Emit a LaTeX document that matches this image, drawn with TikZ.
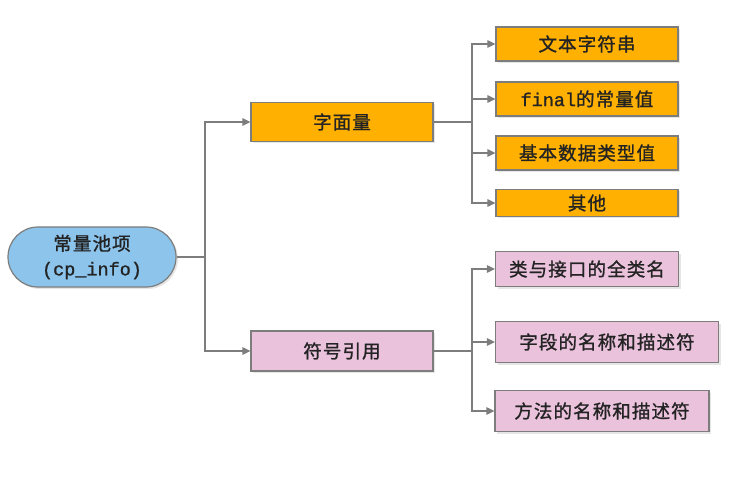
\documentclass[tikz,border=0pt]{standalone}
\usepackage{fontspec}
\setmainfont{Noto Sans CJK SC}[FakeBold=1.2,LetterSpace=6]
\setmonofont{Liberation Mono}[FakeBold=1.2]
\usepackage{tikz}
\usetikzlibrary{arrows.meta}
\usetikzlibrary{shadows}
\definecolor{poolblue}{RGB}{140,196,236}
\definecolor{litorange}{RGB}{255,176,0}
\definecolor{refpink}{RGB}{234,194,220}
\definecolor{edgegray}{RGB}{125,125,125}
\definecolor{inkgray}{RGB}{35,35,35}
\tikzset{
  itembox/.style={draw=edgegray,line width=1.2pt,inner sep=0pt,
    text=inkgray,font=\fontsize{18.5}{21}\selectfont,
    drop shadow={opacity=0.2,shadow xshift=2pt,shadow yshift=-2pt}},
  litbox/.style={itembox,fill=litorange},
  refbox/.style={itembox,fill=refpink},
  link/.style={draw=edgegray,line width=1.2pt},
  linkarr/.style={link,-{Triangle[length=8pt,width=7.5pt]}}
}

\begin{document}
\begin{tikzpicture}[x=1pt,y=-1pt]
    \useasboundingbox (0,0) rectangle (753,492);
    % root entry
    \node[itembox,fill=poolblue,rounded corners=30pt,minimum width=168pt,
          minimum height=60pt,align=center,font=\fontsize{18.5}{25}\selectfont]
          (pool) at (92,257) {常量池项\\\texttt{(cp\_info)}};
    % two kinds
    \node[litbox,minimum width=182pt,minimum height=39pt] (lit) at (342,122) {字面量};
    \node[refbox,minimum width=182pt,minimum height=40pt] (sym) at (342,351) {符号引用};
    % literals
    \node[litbox,minimum width=182pt,minimum height=34pt] (str) at (587,44) {文本字符串};
    \node[litbox,minimum width=182pt,minimum height=34pt] (fin) at (587,99) {\texttt{final}的常量值};
    \node[litbox,minimum width=182pt,minimum height=34pt] (prim) at (587,153) {基本数据类型值};
    \node[litbox,minimum width=182pt,minimum height=27pt] (other) at (587,203) {其他};
    % symbolic references
    \node[refbox,minimum width=183pt,minimum height=35pt] (cls) at (587,269) {类与接口的全类名};
    \node[refbox,minimum width=223pt,minimum height=41pt] (fld) at (607,342) {字段的名称和描述符};
    \node[refbox,minimum width=214pt,minimum height=41pt] (mth) at (602,411) {方法的名称和描述符};
    % branch points
    \coordinate (j0) at (205,257);
    \coordinate (j1) at (472,122);
    \coordinate (j2) at (472,351);
    % connectors
    \draw[link] (pool.east) -- (j0);
    \draw[linkarr] (j0) |- (lit.west);
    \draw[linkarr] (j0) |- (sym.west);
    \draw[link] (lit.east) -- (j1);
    \draw[linkarr] (j1) |- (str.west);
    \draw[linkarr] (j1) |- (fin.west);
    \draw[linkarr] (j1) |- (prim.west);
    \draw[linkarr] (j1) |- (other.west);
    \draw[link] (sym.east) -- (j2);
    \draw[linkarr] (j2) |- (cls.west);
    \draw[linkarr] (j2) |- (fld.west);
    \draw[linkarr] (j2) |- (mth.west);
\end{tikzpicture}
\end{document}
